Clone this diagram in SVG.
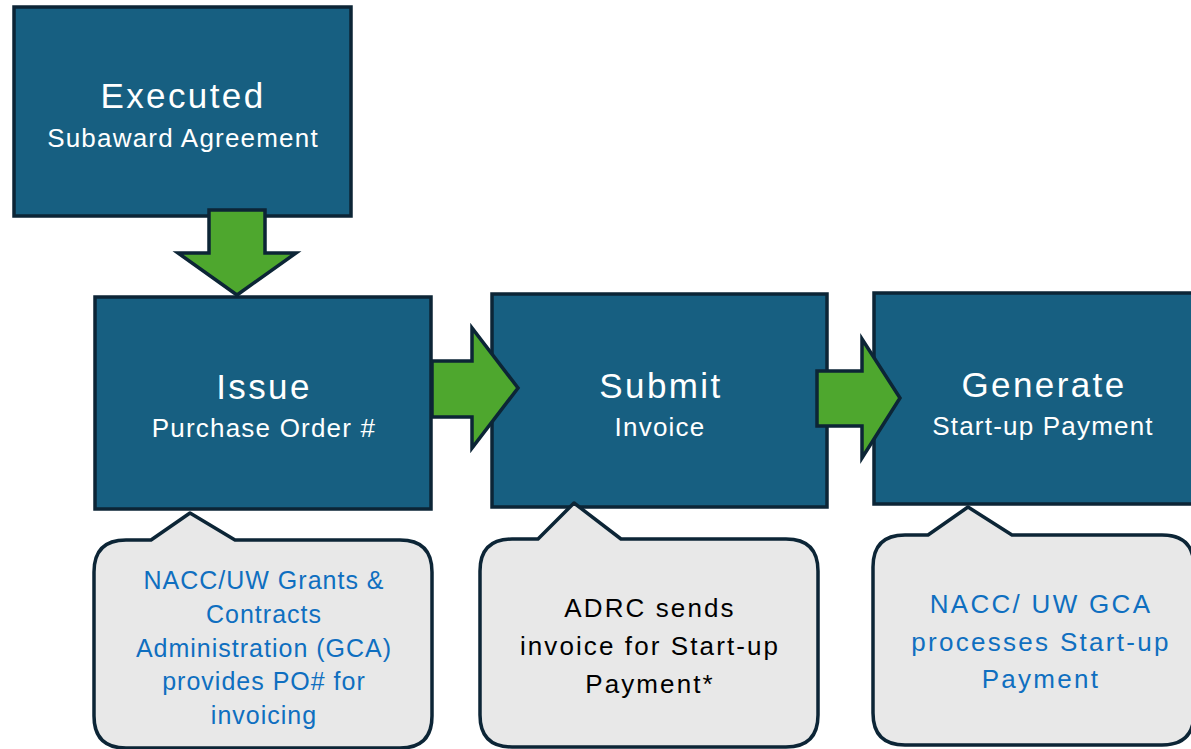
<svg xmlns="http://www.w3.org/2000/svg" width="1191" height="749" viewBox="0 0 1191 749">
<style>
.box{fill:#175f81;stroke:#0c2536;stroke-width:3.5}
.arrow{fill:#4ea72e;stroke:#0c2536;stroke-width:3.5;stroke-linejoin:miter}
.call{fill:#e8e8e8;stroke:#0c2536;stroke-width:3.5;stroke-linejoin:round}
text{font-family:"Liberation Sans",Arial,sans-serif;text-anchor:middle}
.t1{fill:#ffffff;font-size:35px;letter-spacing:2.4px}
.t2{fill:#ffffff;font-size:26px;letter-spacing:1.2px}
.cb{fill:#0f6fc0;font-size:25px;letter-spacing:1.0px}
.ck{fill:#000000;font-size:26px;letter-spacing:2.1px}
.cb2{fill:#0f6fc0;font-size:26px;letter-spacing:2.3px}
</style>
<rect width="1191" height="749" fill="#ffffff"/>
<g id="node-executed">
<rect class="box" x="14" y="7" width="337" height="209"/>
<text class="t1" x="183" y="108">Executed</text>
<text class="t2" x="183" y="147">Subaward Agreement</text>
</g>
<g id="node-issue">
<rect class="box" x="95" y="297" width="336" height="212"/>
<text class="t1" x="264" y="399">Issue</text>
<text class="t2" x="264" y="437">Purchase Order #</text>
</g>
<g id="node-submit">
<rect class="box" x="492" y="294" width="335" height="213"/>
<text class="t1" x="661" y="398">Submit</text>
<text class="t2" x="660" y="436">Invoice</text>
</g>
<g id="node-generate">
<rect class="box" x="874" y="293" width="340" height="211"/>
<text class="t1" x="1044" y="397">Generate</text>
<text class="t2" x="1043" y="435">Start-up Payment</text>
</g>
<g id="connectors">
<path class="arrow" d="M209,210 H265 V253 H296 L237,295 L178,253 H209 Z"/>
<path class="arrow" d="M432,361 H472 V328 L518,388 L472,448 V417 H432 Z"/>
<path class="arrow" d="M817,371 H862 V339 L900,398 L862,458 V426 H817 Z"/>
</g>
<g id="callout-po">
<path class="call" d="M126,540 H151 L190,513 L235,540 H400 Q432,540 432,572 V716 Q432,748 400,748 H126 Q94,748 94,716 V572 Q94,540 126,540 Z"/>
<text class="cb" x="264" y="589">NACC/UW Grants &amp;</text>
<text class="cb" x="264" y="623">Contracts</text>
<text class="cb" x="264" y="657">Administration (GCA)</text>
<text class="cb" x="264" y="690">provides PO# for</text>
<text class="cb" x="264" y="724">invoicing</text>
</g>
<g id="callout-invoice">
<path class="call" d="M512,539 H538 L574,503 L621,539 H786 Q818,539 818,571 V715 Q818,747 786,747 H512 Q480,747 480,715 V571 Q480,539 512,539 Z"/>
<text class="ck" x="650" y="617">ADRC sends</text>
<text class="ck" x="650" y="655">invoice for Start-up</text>
<text class="ck" x="650" y="693">Payment*</text>
</g>
<g id="callout-payment">
<path class="call" d="M905,535 H928 L968,507 L1012,535 H1162 Q1194,535 1194,567 V713 Q1194,745 1162,745 H905 Q873,745 873,713 V567 Q873,535 905,535 Z"/>
<text class="cb2" x="1041" y="613">NACC/ UW GCA</text>
<text class="cb2" x="1041" y="651">processes Start-up</text>
<text class="cb2" x="1041" y="688">Payment</text>
</g>
</svg>
